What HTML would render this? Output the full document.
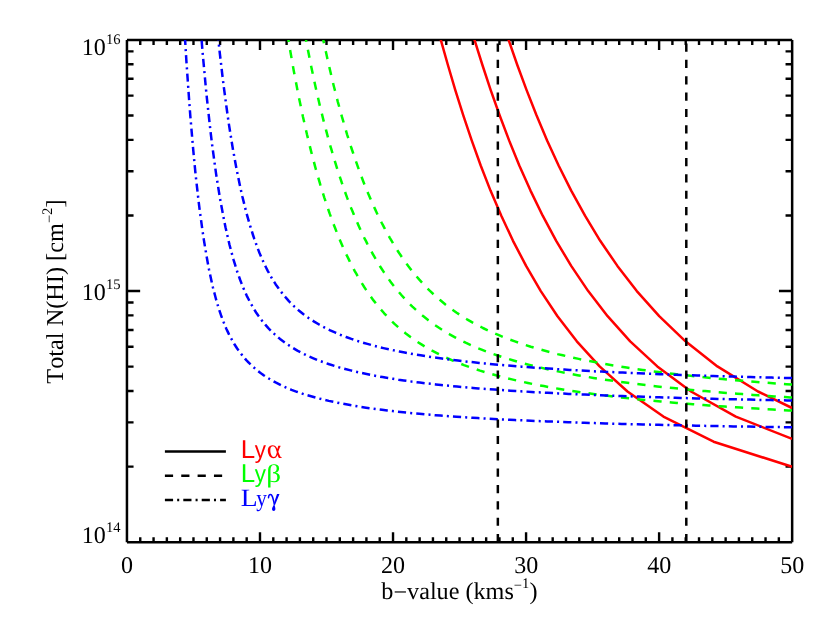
<!DOCTYPE html>
<html><head><meta charset="utf-8"><title>Total N(HI) vs b-value</title>
<style>html,body{margin:0;padding:0;background:#fff;}svg{display:block;will-change:transform;}text{font-family:"Liberation Serif",serif;fill:#000;font-kerning:none;font-variant-ligatures:none;text-rendering:geometricPrecision;}.ss{font-family:"Liberation Sans",sans-serif;}</style>
</head><body>
<svg width="830" height="623" viewBox="0 0 830 623">
<rect x="0" y="0" width="830" height="623" fill="#fff"/>
<defs><clipPath id="pc"><rect x="126.95" y="39.90" width="665.20" height="502.30"/></clipPath></defs>
<path d="M140.25 39.90 v5.0 M140.25 542.20 v-5.0 M153.56 39.90 v5.0 M153.56 542.20 v-5.0 M166.86 39.90 v5.0 M166.86 542.20 v-5.0 M180.17 39.90 v5.0 M180.17 542.20 v-5.0 M193.47 39.90 v5.0 M193.47 542.20 v-5.0 M206.77 39.90 v5.0 M206.77 542.20 v-5.0 M220.08 39.90 v5.0 M220.08 542.20 v-5.0 M233.38 39.90 v5.0 M233.38 542.20 v-5.0 M246.69 39.90 v5.0 M246.69 542.20 v-5.0 M259.99 39.90 v10.0 M259.99 542.20 v-10.0 M273.29 39.90 v5.0 M273.29 542.20 v-5.0 M286.60 39.90 v5.0 M286.60 542.20 v-5.0 M299.90 39.90 v5.0 M299.90 542.20 v-5.0 M313.21 39.90 v5.0 M313.21 542.20 v-5.0 M326.51 39.90 v5.0 M326.51 542.20 v-5.0 M339.81 39.90 v5.0 M339.81 542.20 v-5.0 M353.12 39.90 v5.0 M353.12 542.20 v-5.0 M366.42 39.90 v5.0 M366.42 542.20 v-5.0 M379.73 39.90 v5.0 M379.73 542.20 v-5.0 M393.03 39.90 v10.0 M393.03 542.20 v-10.0 M406.33 39.90 v5.0 M406.33 542.20 v-5.0 M419.64 39.90 v5.0 M419.64 542.20 v-5.0 M432.94 39.90 v5.0 M432.94 542.20 v-5.0 M446.25 39.90 v5.0 M446.25 542.20 v-5.0 M459.55 39.90 v5.0 M459.55 542.20 v-5.0 M472.85 39.90 v5.0 M472.85 542.20 v-5.0 M486.16 39.90 v5.0 M486.16 542.20 v-5.0 M499.46 39.90 v5.0 M499.46 542.20 v-5.0 M512.77 39.90 v5.0 M512.77 542.20 v-5.0 M526.07 39.90 v10.0 M526.07 542.20 v-10.0 M539.37 39.90 v5.0 M539.37 542.20 v-5.0 M552.68 39.90 v5.0 M552.68 542.20 v-5.0 M565.98 39.90 v5.0 M565.98 542.20 v-5.0 M579.29 39.90 v5.0 M579.29 542.20 v-5.0 M592.59 39.90 v5.0 M592.59 542.20 v-5.0 M605.89 39.90 v5.0 M605.89 542.20 v-5.0 M619.20 39.90 v5.0 M619.20 542.20 v-5.0 M632.50 39.90 v5.0 M632.50 542.20 v-5.0 M645.81 39.90 v5.0 M645.81 542.20 v-5.0 M659.11 39.90 v10.0 M659.11 542.20 v-10.0 M672.41 39.90 v5.0 M672.41 542.20 v-5.0 M685.72 39.90 v5.0 M685.72 542.20 v-5.0 M699.02 39.90 v5.0 M699.02 542.20 v-5.0 M712.33 39.90 v5.0 M712.33 542.20 v-5.0 M725.63 39.90 v5.0 M725.63 542.20 v-5.0 M738.93 39.90 v5.0 M738.93 542.20 v-5.0 M752.24 39.90 v5.0 M752.24 542.20 v-5.0 M765.54 39.90 v5.0 M765.54 542.20 v-5.0 M778.85 39.90 v5.0 M778.85 542.20 v-5.0 M126.95 466.60 h6.6 M792.15 466.60 h-6.6 M126.95 422.37 h6.6 M792.15 422.37 h-6.6 M126.95 390.99 h6.6 M792.15 390.99 h-6.6 M126.95 366.65 h6.6 M792.15 366.65 h-6.6 M126.95 346.77 h6.6 M792.15 346.77 h-6.6 M126.95 329.95 h6.6 M792.15 329.95 h-6.6 M126.95 315.39 h6.6 M792.15 315.39 h-6.6 M126.95 302.54 h6.6 M792.15 302.54 h-6.6 M126.95 291.05 h13.2 M792.15 291.05 h-13.2 M126.95 215.45 h6.6 M792.15 215.45 h-6.6 M126.95 171.22 h6.6 M792.15 171.22 h-6.6 M126.95 139.84 h6.6 M792.15 139.84 h-6.6 M126.95 115.50 h6.6 M792.15 115.50 h-6.6 M126.95 95.62 h6.6 M792.15 95.62 h-6.6 M126.95 78.80 h6.6 M792.15 78.80 h-6.6 M126.95 64.24 h6.6 M792.15 64.24 h-6.6 M126.95 51.39 h6.6 M792.15 51.39 h-6.6" stroke="#000" stroke-width="2.4" fill="none"/>
<path d="M126.95 542.20 H792.15 M126.95 39.90 H792.15 M126.95 542.20 V39.90 M792.15 542.20 V39.90" fill="none" stroke="#000" stroke-width="2.5"/>
<g clip-path="url(#pc)" fill="none" stroke-width="2.5" stroke-linejoin="round">
<path d="M792.1 466.8 L713.6 441.7 L663.4 416.6 L627.5 391.5 L599.6 366.4 L576.8 341.3 L557.5 316.2 L540.8 291.1 L526.1 265.9 L513.0 240.8 L501.3 215.7 L490.5 190.6 L480.7 165.5 L471.7 140.4 L463.2 115.2 L455.3 90.1 L447.9 65.0 L440.8 39.9 L434.0 14.8" stroke="#ff0000"/>
<path d="M792.1 438.9 L735.8 416.6 L691.0 391.5 L657.3 366.4 L630.2 341.3 L607.6 316.2 L588.2 291.1 L571.2 265.9 L556.2 240.8 L542.7 215.7 L530.5 190.6 L519.3 165.5 L509.1 140.4 L499.6 115.2 L490.7 90.1 L482.4 65.0 L474.5 39.9 L467.0 14.8" stroke="#ff0000"/>
<path d="M792.1 408.0 L758.0 391.5 L717.4 366.4 L685.5 341.3 L659.2 316.2 L636.8 291.1 L617.4 265.9 L600.2 240.8 L585.0 215.7 L571.2 190.6 L558.6 165.5 L547.1 140.4 L536.5 115.2 L526.6 90.1 L517.3 65.0 L508.6 39.9 L500.3 14.8" stroke="#ff0000"/>
<path d="M792.1 410.6 L788.6 410.4 L783.3 410.1 L778.0 409.8 L772.7 409.5 L767.3 409.2 L762.0 408.9 L756.7 408.6 L751.4 408.3 L746.1 408.0 L740.7 407.6 L735.4 407.3 L730.1 406.9 L724.8 406.6 L719.4 406.2 L714.1 405.8 L708.8 405.4 L703.5 405.0 L698.2 404.6 L692.8 404.2 L687.5 403.8 L682.2 403.4 L676.9 402.9 L671.6 402.5 L666.2 402.0 L660.9 401.5 L655.6 401.0 L650.3 400.5 L644.9 400.0 L639.6 399.4 L634.3 398.9 L629.0 398.3 L623.7 397.7 L618.3 397.1 L613.0 396.5 L607.7 395.8 L602.4 395.2 L597.1 394.5 L591.7 393.8 L586.4 393.0 L581.1 392.3 L575.8 391.5 L570.4 390.7 L565.1 389.8 L559.8 389.0 L554.5 388.1 L549.2 387.1 L543.8 386.1 L538.5 385.1 L533.2 384.1 L527.9 383.0 L522.6 381.8 L517.2 380.6 L511.9 379.4 L506.6 378.1 L501.3 376.7 L495.9 375.3 L490.6 373.8 L485.3 372.2 L480.0 370.6 L474.7 368.8 L469.3 367.0 L464.0 365.1 L458.7 363.0 L453.4 360.8 L448.0 358.5 L442.7 356.1 L437.4 353.4 L432.1 350.7 L426.8 347.7 L421.4 344.4 L416.1 341.0 L410.8 337.3 L405.5 333.2 L400.2 328.9 L394.8 324.1 L389.5 319.0 L384.2 313.3 L378.9 307.2 L373.5 300.4 L368.2 293.0 L366.9 291.1 L365.6 289.1 L364.2 287.0 L362.9 284.9 L361.6 282.8 L360.2 280.6 L358.9 278.4 L357.6 276.1 L356.3 273.7 L354.9 271.3 L353.6 268.8 L352.3 266.3 L350.9 263.7 L349.6 261.1 L348.3 258.4 L346.9 255.7 L345.6 252.8 L344.3 249.9 L342.9 247.0 L341.6 244.0 L340.3 240.9 L339.0 237.7 L337.6 234.5 L336.3 231.1 L335.0 227.7 L333.6 224.3 L332.3 220.7 L331.0 217.1 L329.6 213.4 L328.3 209.5 L327.0 205.6 L325.7 201.7 L324.3 197.6 L323.0 193.4 L321.7 189.1 L320.3 184.7 L319.0 180.2 L317.7 175.6 L316.3 170.9 L315.0 166.1 L313.7 161.1 L312.3 156.1 L311.0 150.9 L309.7 145.6 L308.4 140.1 L307.0 134.6 L305.7 128.8 L304.4 123.0 L303.0 117.0 L301.7 110.8 L300.4 104.5 L299.0 98.0 L297.7 91.4 L296.4 84.6 L295.1 77.6 L293.7 70.4 L292.4 63.1 L291.1 55.6 L289.7 47.8 L288.4 39.9 L287.1 31.8 L285.7 23.4 L284.4 14.9 L283.1 6.1 L281.7 -2.9" stroke="#00ff00" stroke-dasharray="8.2 8.15"/>
<path d="M792.1 397.5 L790.3 397.4 L784.9 397.1 L779.6 396.7 L774.3 396.4 L769.0 396.0 L763.7 395.7 L758.3 395.3 L753.0 394.9 L747.7 394.5 L742.4 394.1 L737.0 393.7 L731.7 393.3 L726.4 392.9 L721.1 392.5 L715.8 392.0 L710.4 391.6 L705.1 391.1 L699.8 390.7 L694.5 390.2 L689.2 389.7 L683.8 389.2 L678.5 388.6 L673.2 388.1 L667.9 387.6 L662.5 387.0 L657.2 386.4 L651.9 385.8 L646.6 385.2 L641.3 384.6 L635.9 383.9 L630.6 383.2 L625.3 382.5 L620.0 381.8 L614.7 381.1 L609.3 380.3 L604.0 379.5 L598.7 378.7 L593.4 377.9 L588.0 377.0 L582.7 376.1 L577.4 375.2 L572.1 374.2 L566.8 373.2 L561.4 372.1 L556.1 371.0 L550.8 369.9 L545.5 368.7 L540.2 367.5 L534.8 366.2 L529.5 364.9 L524.2 363.5 L518.9 362.1 L513.5 360.5 L508.2 358.9 L502.9 357.3 L497.6 355.5 L492.3 353.7 L486.9 351.7 L481.6 349.6 L476.3 347.5 L471.0 345.1 L465.6 342.7 L460.3 340.1 L455.0 337.3 L449.7 334.4 L444.4 331.2 L439.0 327.8 L433.7 324.2 L428.4 320.3 L423.1 316.1 L417.8 311.6 L412.4 306.6 L407.1 301.3 L401.8 295.5 L396.5 289.3 L391.1 282.5 L385.8 275.0 L384.5 273.1 L383.2 271.1 L381.8 269.0 L380.5 267.0 L379.2 264.8 L377.8 262.7 L376.5 260.4 L375.2 258.2 L373.9 255.9 L372.5 253.5 L371.2 251.1 L369.9 248.6 L368.5 246.1 L367.2 243.6 L365.9 240.9 L364.5 238.3 L363.2 235.5 L361.9 232.7 L360.5 229.9 L359.2 227.0 L357.9 224.0 L356.6 221.0 L355.2 217.9 L353.9 214.7 L352.6 211.5 L351.2 208.2 L349.9 204.8 L348.6 201.4 L347.2 197.9 L345.9 194.3 L344.6 190.6 L343.3 186.8 L341.9 183.0 L340.6 179.1 L339.3 175.1 L337.9 171.0 L336.6 166.8 L335.3 162.6 L333.9 158.2 L332.6 153.7 L331.3 149.2 L329.9 144.5 L328.6 139.8 L327.3 134.9 L326.0 129.9 L324.6 124.8 L323.3 119.6 L322.0 114.3 L320.6 108.8 L319.3 103.3 L318.0 97.6 L316.6 91.7 L315.3 85.8 L314.0 79.7 L312.7 73.4 L311.3 67.0 L310.0 60.5 L308.7 53.8 L307.3 46.9 L306.0 39.9 L304.7 32.7 L303.3 25.4 L302.0 17.8 L300.7 10.1 L299.3 2.3" stroke="#00ff00" stroke-dasharray="8.2 8.15"/>
<path d="M792.1 384.6 L791.6 384.6 L786.3 384.2 L781.0 383.8 L775.6 383.4 L770.3 383.0 L765.0 382.6 L759.7 382.2 L754.3 381.8 L749.0 381.3 L743.7 380.9 L738.4 380.4 L733.1 380.0 L727.7 379.5 L722.4 379.0 L717.1 378.5 L711.8 378.0 L706.5 377.5 L701.1 376.9 L695.8 376.4 L690.5 375.8 L685.2 375.2 L679.8 374.6 L674.5 374.0 L669.2 373.4 L663.9 372.7 L658.6 372.0 L653.2 371.4 L647.9 370.6 L642.6 369.9 L637.3 369.2 L632.0 368.4 L626.6 367.6 L621.3 366.7 L616.0 365.9 L610.7 365.0 L605.3 364.1 L600.0 363.1 L594.7 362.1 L589.4 361.1 L584.1 360.0 L578.7 358.9 L573.4 357.8 L568.1 356.6 L562.8 355.3 L557.5 354.1 L552.1 352.7 L546.8 351.3 L541.5 349.8 L536.2 348.3 L530.8 346.7 L525.5 345.0 L520.2 343.3 L514.9 341.4 L509.6 339.5 L504.2 337.4 L498.9 335.2 L493.6 332.9 L488.3 330.5 L482.9 328.0 L477.6 325.2 L472.3 322.4 L467.0 319.3 L461.7 316.0 L456.3 312.5 L451.0 308.7 L445.7 304.7 L440.4 300.3 L435.1 295.7 L429.7 290.7 L424.4 285.3 L419.1 279.4 L413.8 273.1 L408.4 266.3 L403.1 258.9 L401.8 257.0 L400.5 255.0 L399.1 253.0 L397.8 251.0 L396.5 248.9 L395.1 246.7 L393.8 244.6 L392.5 242.4 L391.2 240.1 L389.8 237.8 L388.5 235.5 L387.2 233.1 L385.8 230.6 L384.5 228.2 L383.2 225.6 L381.8 223.0 L380.5 220.4 L379.2 217.7 L377.8 215.0 L376.5 212.2 L375.2 209.4 L373.9 206.5 L372.5 203.5 L371.2 200.5 L369.9 197.4 L368.5 194.3 L367.2 191.1 L365.9 187.9 L364.5 184.5 L363.2 181.2 L361.9 177.7 L360.6 174.2 L359.2 170.6 L357.9 166.9 L356.6 163.2 L355.2 159.4 L353.9 155.5 L352.6 151.5 L351.2 147.5 L349.9 143.3 L348.6 139.1 L347.2 134.8 L345.9 130.4 L344.6 125.9 L343.3 121.4 L341.9 116.7 L340.6 111.9 L339.3 107.1 L337.9 102.1 L336.6 97.0 L335.3 91.8 L333.9 86.5 L332.6 81.1 L331.3 75.6 L330.0 70.0 L328.6 64.2 L327.3 58.3 L326.0 52.3 L324.6 46.2 L323.3 39.9 L322.0 33.5 L320.6 26.9 L319.3 20.3 L318.0 13.4 L316.6 6.4" stroke="#00ff00" stroke-dasharray="8.2 8.15"/>
<path d="M792.1 427.3 L791.8 427.3 L786.4 427.2 L781.1 427.1 L775.8 427.1 L770.5 427.0 L765.2 426.9 L759.8 426.8 L754.5 426.7 L749.2 426.6 L743.9 426.5 L738.5 426.5 L733.2 426.4 L727.9 426.3 L722.6 426.2 L717.3 426.1 L711.9 426.0 L706.6 425.9 L701.3 425.8 L696.0 425.7 L690.7 425.5 L685.3 425.4 L680.0 425.3 L674.7 425.2 L669.4 425.1 L664.0 425.0 L658.7 424.8 L653.4 424.7 L648.1 424.6 L642.8 424.5 L637.4 424.3 L632.1 424.2 L626.8 424.0 L621.5 423.9 L616.1 423.7 L610.8 423.6 L605.5 423.4 L600.2 423.3 L594.9 423.1 L589.5 422.9 L584.2 422.8 L578.9 422.6 L573.6 422.4 L568.3 422.2 L562.9 422.0 L557.6 421.8 L552.3 421.6 L547.0 421.4 L541.6 421.2 L536.3 421.0 L531.0 420.8 L525.7 420.5 L520.4 420.3 L515.0 420.1 L509.7 419.8 L504.4 419.5 L499.1 419.3 L493.8 419.0 L488.4 418.7 L483.1 418.4 L477.8 418.1 L472.5 417.8 L467.1 417.4 L461.8 417.1 L456.5 416.7 L451.2 416.4 L445.9 416.0 L440.5 415.6 L435.2 415.2 L429.9 414.7 L424.6 414.3 L419.3 413.8 L413.9 413.3 L408.6 412.8 L403.3 412.3 L398.0 411.7 L392.6 411.1 L387.3 410.5 L382.0 409.8 L376.7 409.1 L371.4 408.4 L366.0 407.7 L360.7 406.9 L355.4 406.0 L350.1 405.1 L344.7 404.1 L339.4 403.1 L334.1 402.0 L328.8 400.9 L323.5 399.6 L318.1 398.3 L312.8 396.8 L307.5 395.3 L302.2 393.6 L296.9 391.8 L291.5 389.8 L286.2 387.6 L280.9 385.1 L275.6 382.4 L270.2 379.4 L264.9 376.1 L263.6 375.2 L262.3 374.2 L260.9 373.3 L259.6 372.3 L258.3 371.2 L256.9 370.2 L255.6 369.1 L254.3 367.9 L253.0 366.7 L251.6 365.5 L250.3 364.2 L249.0 362.9 L247.6 361.5 L246.3 360.1 L245.0 358.6 L243.6 357.0 L242.3 355.4 L241.0 353.7 L239.6 352.0 L238.3 350.1 L237.0 348.2 L235.7 346.2 L234.3 344.0 L233.0 341.8 L231.7 339.4 L230.3 337.0 L229.0 334.4 L227.7 331.6 L226.3 328.7 L225.0 325.6 L223.7 322.4 L222.4 318.9 L221.0 315.2 L219.7 311.3 L218.4 307.2 L217.0 302.8 L215.7 298.0 L214.4 293.0 L213.0 287.7 L211.7 282.0 L210.4 275.9 L209.0 269.4 L207.7 262.5 L206.4 255.1 L205.1 247.3 L203.7 238.9 L202.4 230.0 L201.1 220.4 L199.7 210.3 L198.4 199.5 L197.1 187.9 L195.7 175.6 L194.4 162.4 L193.1 148.3 L191.8 133.2 L190.4 117.0 L189.1 99.7 L187.8 81.1 L186.4 61.2 L185.1 39.9 L183.8 17.0 L182.4 -7.6 L181.1 -33.9 L179.8 -62.0 L178.4 -92.0" stroke="#0000ff" stroke-dasharray="8.18 4.09 2.04 4.09"/>
<path d="M792.1 400.5 L787.0 400.4 L781.7 400.3 L776.3 400.2 L771.0 400.1 L765.7 400.0 L760.4 399.9 L755.0 399.8 L749.7 399.6 L744.4 399.5 L739.1 399.4 L733.8 399.3 L728.4 399.2 L723.1 399.0 L717.8 398.9 L712.5 398.8 L707.2 398.6 L701.8 398.5 L696.5 398.4 L691.2 398.2 L685.9 398.1 L680.5 397.9 L675.2 397.8 L669.9 397.6 L664.6 397.5 L659.3 397.3 L653.9 397.1 L648.6 397.0 L643.3 396.8 L638.0 396.6 L632.6 396.4 L627.3 396.3 L622.0 396.1 L616.7 395.9 L611.4 395.7 L606.0 395.5 L600.7 395.3 L595.4 395.0 L590.1 394.8 L584.8 394.6 L579.4 394.4 L574.1 394.1 L568.8 393.9 L563.5 393.6 L558.1 393.4 L552.8 393.1 L547.5 392.8 L542.2 392.5 L536.9 392.3 L531.5 392.0 L526.2 391.6 L520.9 391.3 L515.6 391.0 L510.3 390.7 L504.9 390.3 L499.6 389.9 L494.3 389.6 L489.0 389.2 L483.6 388.8 L478.3 388.4 L473.0 387.9 L467.7 387.5 L462.4 387.0 L457.0 386.5 L451.7 386.0 L446.4 385.5 L441.1 385.0 L435.8 384.4 L430.4 383.8 L425.1 383.2 L419.8 382.6 L414.5 381.9 L409.1 381.2 L403.8 380.4 L398.5 379.7 L393.2 378.8 L387.9 378.0 L382.5 377.1 L377.2 376.1 L371.9 375.1 L366.6 374.0 L361.2 372.9 L355.9 371.7 L350.6 370.4 L345.3 369.0 L340.0 367.6 L334.6 366.0 L329.3 364.3 L324.0 362.4 L318.7 360.5 L313.4 358.3 L308.0 356.0 L302.7 353.4 L297.4 350.6 L292.1 347.4 L286.7 343.9 L281.4 340.0 L280.1 339.0 L278.8 337.9 L277.4 336.8 L276.1 335.6 L274.8 334.4 L273.4 333.2 L272.1 331.9 L270.8 330.6 L269.5 329.3 L268.1 327.9 L266.8 326.4 L265.5 324.9 L264.1 323.3 L262.8 321.7 L261.5 320.0 L260.1 318.2 L258.8 316.4 L257.5 314.5 L256.1 312.5 L254.8 310.4 L253.5 308.2 L252.2 305.9 L250.8 303.6 L249.5 301.1 L248.2 298.5 L246.8 295.8 L245.5 292.9 L244.2 289.9 L242.8 286.8 L241.5 283.4 L240.2 280.0 L238.9 276.3 L237.5 272.5 L236.2 268.4 L234.9 264.1 L233.5 259.7 L232.2 254.9 L230.9 250.0 L229.5 244.7 L228.2 239.2 L226.9 233.4 L225.5 227.3 L224.2 220.9 L222.9 214.1 L221.6 207.0 L220.2 199.5 L218.9 191.6 L217.6 183.3 L216.2 174.6 L214.9 165.3 L213.6 155.6 L212.2 145.4 L210.9 134.6 L209.6 123.2 L208.3 111.1 L206.9 98.4 L205.6 85.0 L204.3 70.8 L202.9 55.8 L201.6 39.9 L200.3 23.1 L198.9 5.3 L197.6 -13.6 L196.3 -33.5 L194.9 -54.6" stroke="#0000ff" stroke-dasharray="8.18 4.09 2.04 4.09"/>
<path d="M792.1 378.1 L787.8 378.0 L782.5 377.9 L777.2 377.7 L771.8 377.6 L766.5 377.5 L761.2 377.3 L755.9 377.2 L750.6 377.1 L745.2 376.9 L739.9 376.8 L734.6 376.6 L729.3 376.5 L724.0 376.3 L718.6 376.2 L713.3 376.0 L708.0 375.8 L702.7 375.7 L697.3 375.5 L692.0 375.3 L686.7 375.1 L681.4 375.0 L676.1 374.8 L670.7 374.6 L665.4 374.4 L660.1 374.2 L654.8 374.0 L649.4 373.8 L644.1 373.5 L638.8 373.3 L633.5 373.1 L628.2 372.9 L622.8 372.6 L617.5 372.4 L612.2 372.1 L606.9 371.9 L601.6 371.6 L596.2 371.4 L590.9 371.1 L585.6 370.8 L580.3 370.5 L574.9 370.2 L569.6 369.9 L564.3 369.6 L559.0 369.3 L553.7 368.9 L548.3 368.6 L543.0 368.2 L537.7 367.9 L532.4 367.5 L527.1 367.1 L521.7 366.7 L516.4 366.3 L511.1 365.8 L505.8 365.4 L500.4 364.9 L495.1 364.4 L489.8 363.9 L484.5 363.4 L479.2 362.9 L473.8 362.3 L468.5 361.8 L463.2 361.2 L457.9 360.5 L452.6 359.9 L447.2 359.2 L441.9 358.5 L436.6 357.8 L431.3 357.0 L425.9 356.2 L420.6 355.3 L415.3 354.5 L410.0 353.5 L404.7 352.5 L399.3 351.5 L394.0 350.4 L388.7 349.3 L383.4 348.1 L378.0 346.8 L372.7 345.4 L367.4 343.9 L362.1 342.4 L356.8 340.7 L351.4 338.9 L346.1 337.0 L340.8 335.0 L335.5 332.7 L330.2 330.3 L324.8 327.7 L319.5 324.8 L314.2 321.6 L308.9 318.2 L303.5 314.3 L298.2 310.0 L296.9 308.8 L295.6 307.6 L294.2 306.4 L292.9 305.1 L291.6 303.8 L290.2 302.5 L288.9 301.1 L287.6 299.6 L286.3 298.1 L284.9 296.6 L283.6 295.0 L282.3 293.4 L280.9 291.6 L279.6 289.9 L278.3 288.0 L276.9 286.1 L275.6 284.2 L274.3 282.1 L272.9 280.0 L271.6 277.8 L270.3 275.5 L269.0 273.1 L267.6 270.6 L266.3 268.0 L265.0 265.3 L263.6 262.4 L262.3 259.5 L261.0 256.4 L259.6 253.2 L258.3 249.9 L257.0 246.4 L255.7 242.7 L254.3 238.9 L253.0 235.0 L251.7 230.8 L250.3 226.5 L249.0 222.0 L247.7 217.3 L246.3 212.4 L245.0 207.2 L243.7 201.9 L242.3 196.3 L241.0 190.5 L239.7 184.4 L238.4 178.0 L237.0 171.4 L235.7 164.5 L234.4 157.2 L233.0 149.7 L231.7 141.8 L230.4 133.5 L229.0 124.9 L227.7 115.9 L226.4 106.5 L225.1 96.6 L223.7 86.3 L222.4 75.5 L221.1 64.2 L219.7 52.3 L218.4 39.9 L217.1 26.9 L215.7 13.2 L214.4 -1.1 L213.1 -16.1 L211.7 -31.9" stroke="#0000ff" stroke-dasharray="8.18 4.09 2.04 4.09"/>
<path d="M497.85 542.20 V39.90" stroke="#000" stroke-dasharray="8.2 8.15"/>
<path d="M686.30 542.20 V39.90" stroke="#000" stroke-dasharray="8.2 8.15"/>
</g>
<text x="127.0" y="572.7" font-size="24" text-anchor="middle">0</text>
<text x="260.1" y="572.7" font-size="24" text-anchor="middle">10</text>
<text x="393.1" y="572.7" font-size="24" text-anchor="middle">20</text>
<text x="526.2" y="572.7" font-size="24" text-anchor="middle">30</text>
<text x="659.2" y="572.7" font-size="24" text-anchor="middle">40</text>
<text x="792.2" y="572.7" font-size="24" text-anchor="middle">50</text>
<text x="105.8" y="54.6" font-size="24" text-anchor="end">10</text>
<text x="106.0" y="44.1" font-size="14.6">16</text>
<text x="105.8" y="299.8" font-size="24" text-anchor="end">10</text>
<text x="106.0" y="289.3" font-size="14.6">15</text>
<text x="105.8" y="542.6" font-size="24" text-anchor="end">10</text>
<text x="106.0" y="532.1" font-size="14.6">14</text>
<text x="381.3" y="598.8" font-size="24.2">b<tspan dy="1.60">−</tspan><tspan dy="-1.60">value (kms</tspan><tspan font-size="14.6" dy="-9.15">−</tspan><tspan font-size="14.6" dy="-1.35">1</tspan><tspan dy="10.5">)</tspan></text>
<text transform="translate(62.9 383.7) rotate(-90)" font-size="24.3">Total N(HI) [cm<tspan font-size="14.6" dy="-9.15">−</tspan><tspan font-size="14.6" dy="-1.35">2</tspan><tspan dy="10.5">]</tspan></text>
<g stroke="#000" stroke-width="2.5" fill="none">
<path d="M164.9 451.5 H225.9"/>
<path d="M164.9 475.8 H225.9" stroke-dasharray="8.2 8.15"/>
<path d="M164.9 500.0 H225.9" stroke-dasharray="8.18 4.09 2.04 4.09"/>
</g>
<text transform="translate(240.86 457.70) scale(1.001 1)" font-size="25.89" style="font-family:'Liberation Sans';font-style:normal;fill:#ff0000">L</text>
<text transform="translate(254.84 457.76) scale(0.923 1)" font-size="24.29" style="font-family:'Liberation Sans';font-style:normal;fill:#ff0000">y</text>
<text transform="translate(268.82 457.73) scale(1.052 1) skewX(15.5)" font-size="26.94" style="font-family:'Liberation Serif';font-style:italic;fill:#ff0000">α</text>
<text transform="translate(240.86 481.70) scale(1.001 1)" font-size="25.89" style="font-family:'Liberation Sans';font-style:normal;fill:#00ff00">L</text>
<text transform="translate(254.84 481.76) scale(0.923 1)" font-size="24.29" style="font-family:'Liberation Sans';font-style:normal;fill:#00ff00">y</text>
<text transform="translate(266.31 481.70) scale(1.145 1)" font-size="25.40" style="font-family:'Liberation Serif';font-style:normal;fill:#00ff00">β</text>
<text transform="translate(240.77 506.00) scale(1.113 1)" font-size="24.89" style="font-family:'Liberation Serif';font-style:normal;fill:#0000ff">L</text>
<text transform="translate(256.23 505.92) scale(0.887 1)" font-size="24.07" style="font-family:'Liberation Serif';font-style:normal;fill:#0000ff">y</text>
<g fill="#0000ff" stroke="none">
<path d="M277.0 493.9 L279.5 494.0 L275.0 505.0 L273.5 504.4 Z"/>
<path d="M274.2 503.2 C273.7 505.6 272.0 507.4 272.0 509.0 C272.0 510.3 272.8 511.0 273.7 511.0 C274.6 511.0 275.4 510.3 275.4 509.0 C275.4 507.4 274.7 505.6 274.2 503.2 Z"/>
<path d="M268.5 497.7 C268.6 495.6 269.4 494.6 270.5 494.6 C272.1 494.6 272.7 496.8 274.2 503.6" fill="none" stroke="#0000ff" stroke-width="1.5" stroke-linecap="round"/>
</g>
</svg>
</body></html>
